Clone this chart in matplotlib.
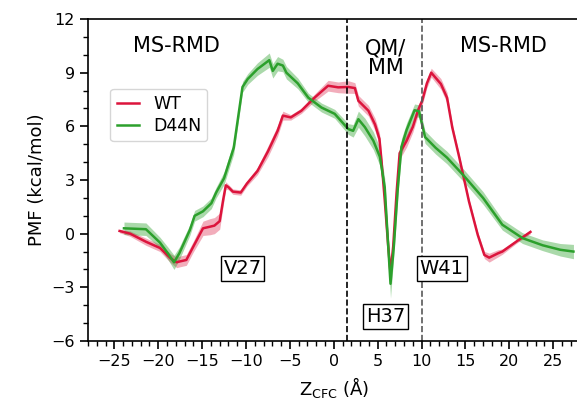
import numpy as np
import matplotlib
matplotlib.use('Agg')
import matplotlib.pyplot as plt
from matplotlib.ticker import MultipleLocator

# PMF profiles (x in Angstrom, y in kcal/mol)
wt_x = [-24.4, -23.2, -21.4, -19.8, -18.6, -17.9, -17.6, -16.8, -16.0, -14.9, -14.1,
        -13.6, -13.0, -12.6, -12.3, -12.0, -11.5, -10.6, -9.9, -8.7, -7.5, -6.4,
        -5.8, -4.9, -3.7, -2.2, -0.65, 0.5, 1.65, 2.4, 2.8, 3.95, 4.7, 5.2, 5.43,
        5.8, 6.2, 6.46, 6.77, 7.15, 7.5, 8.3, 9.0, 9.6, 10.07, 10.6, 11.1, 12.2,
        12.9, 13.5, 14.3, 15.4, 16.4, 17.15, 17.7, 18.7, 19.2, 20.8, 22.4]
wt_y = [0.15, 0.0, -0.45, -0.8, -1.37, -1.6, -1.56, -1.47, -0.72, 0.3, 0.39,
        0.45, 0.7, 1.9, 2.7, 2.6, 2.35, 2.3, 2.8, 3.5, 4.6, 5.75,
        6.6, 6.5, 6.87, 7.6, 8.27, 8.18, 8.2, 8.14, 7.43, 6.87, 6.1, 5.3, 4.1,
        1.9, -0.7, -2.2, -0.7, 2.27, 4.5, 5.2, 5.97, 6.9, 7.43, 8.4, 9.0, 8.37,
        7.6, 5.93, 4.25, 1.8, -0.07, -1.19, -1.34, -1.1, -1.0, -0.44, 0.1]
wt_err = [0.1, 0.15, 0.2, 0.2, 0.25, 0.3, 0.3, 0.3, 0.3, 0.4, 0.45,
          0.45, 0.45, 0.35, 0.2, 0.15, 0.15, 0.15, 0.15, 0.2, 0.3, 0.3,
          0.25, 0.15, 0.15, 0.2, 0.3, 0.3, 0.35, 0.3, 0.3, 0.3, 0.35, 0.35, 0.35,
          0.3, 0.3, 0.3, 0.3, 0.3, 0.35, 0.35, 0.3, 0.3, 0.25, 0.25, 0.25, 0.3,
          0.3, 0.2, 0.15, 0.15, 0.15, 0.2, 0.25, 0.2, 0.15, 0.1, 0.1]

d44n_x = [-23.9, -21.4, -19.8, -18.9, -18.2, -17.6, -16.4, -15.85, -14.9, -13.95,
          -13.4, -12.5, -11.4, -10.4, -9.8, -8.7, -7.35, -6.95, -6.4, -5.8, -5.4,
          -4.1, -2.9, -1.4, 0.1, 1.65, 2.2, 2.8, 3.55, 4.5, 5.25, 5.8, 6.2, 6.46,
          6.84, 7.3, 7.7, 8.3, 9.2, 9.7, 10.4, 11.6, 12.9, 14.7, 17.0, 19.2, 21.5,
          23.8, 25.8, 27.3]
d44n_y = [0.3, 0.25, -0.5, -1.1, -1.6, -1.1, 0.2, 1.0, 1.25, 1.7,
          2.3, 3.1, 4.8, 8.2, 8.65, 9.2, 9.7, 9.1, 9.5, 9.4, 9.0,
          8.4, 7.6, 7.05, 6.7, 5.85, 5.75, 6.4, 5.95, 5.2, 4.3, 2.6, -0.7, -2.8,
          -0.7, 2.6, 4.85, 5.8, 6.9, 6.85, 5.4, 4.8, 4.25, 3.3, 2.0, 0.5, -0.25,
          -0.65, -0.9, -1.0]
d44n_err = [0.35, 0.35, 0.3, 0.35, 0.4, 0.35, 0.3, 0.3, 0.3, 0.3,
            0.3, 0.35, 0.35, 0.3, 0.3, 0.35, 0.4, 0.4, 0.4, 0.35, 0.35,
            0.3, 0.25, 0.25, 0.25, 0.3, 0.35, 0.45, 0.5, 0.5, 0.5, 0.5, 0.6, 0.8,
            0.5, 0.45, 0.45, 0.4, 0.35, 0.35, 0.35, 0.35, 0.35, 0.35, 0.35, 0.3, 0.3,
            0.3, 0.35, 0.4]

boundaries = [1.5, 10.0]
residues = ['V27', 'H37', 'W41']
residue_pos = [(-10.4, -1.94), (5.9, -4.64), (12.3, -1.94)]

wt_col = '#dc143c'
d44n_col = '#2ca02c'

fig = plt.figure(figsize=(5.77, 4.08), dpi=100)
ax = fig.add_axes([0.1525, 0.1642, 0.852, 0.7892])

wx, wy, we = np.array(wt_x), np.array(wt_y), np.array(wt_err)
dx, dy, de = np.array(d44n_x), np.array(d44n_y), np.array(d44n_err)

ax.fill_between(wx, wy - we, wy + we, color=wt_col, alpha=0.35, lw=0)
ax.fill_between(dx, dy - de, dy + de, color=d44n_col, alpha=0.4, lw=0)
ax.plot(wx, wy, color=wt_col, lw=1.8, label='WT')
ax.plot(dx, dy, color=d44n_col, lw=1.8, label='D44N')

ax.axvline(boundaries[0], color='k', ls='--', lw=1.2)
ax.axvline(boundaries[1], color='0.35', ls='--', lw=1.2)

ax.text(-17.9, 10.5, 'MS-RMD', fontsize=15, ha='center', va='center')
ax.text(5.9, 9.8, 'QM/\nMM', fontsize=15, ha='center', va='center', linespacing=0.95)
ax.text(19.3, 10.5, 'MS-RMD', fontsize=15, ha='center', va='center')

for name, (px, py) in zip(residues, residue_pos):
    ax.text(px, py, name, fontsize=14, ha='center', va='center',
            bbox=dict(boxstyle='square,pad=0.15', fc='white', ec='k', lw=1))

ax.set_xlim(-28, 28)
ax.set_ylim(-6, 12)
ax.xaxis.set_major_locator(MultipleLocator(5))
ax.xaxis.set_minor_locator(MultipleLocator(1))
ax.yaxis.set_major_locator(MultipleLocator(3))
ax.yaxis.set_minor_locator(MultipleLocator(1))
ax.tick_params(which='major', labelsize=11.5, length=6, width=1.2)
ax.tick_params(which='minor', length=3.5, width=1.0)
for s in ax.spines.values():
    s.set_linewidth(1.2)
ax.spines['right'].set_visible(False)

ax.set_ylabel('PMF (kcal/mol)', fontsize=13)
ax.set_xlabel(r'Z$_{\mathrm{CFC}}$ (Å)', fontsize=13)

ax.legend(loc='upper left', bbox_to_anchor=(0.028, 0.81), fontsize=12.5,
          handlelength=1.3, borderpad=0.35, labelspacing=0.25)

fig.savefig('out.png', dpi=100)
